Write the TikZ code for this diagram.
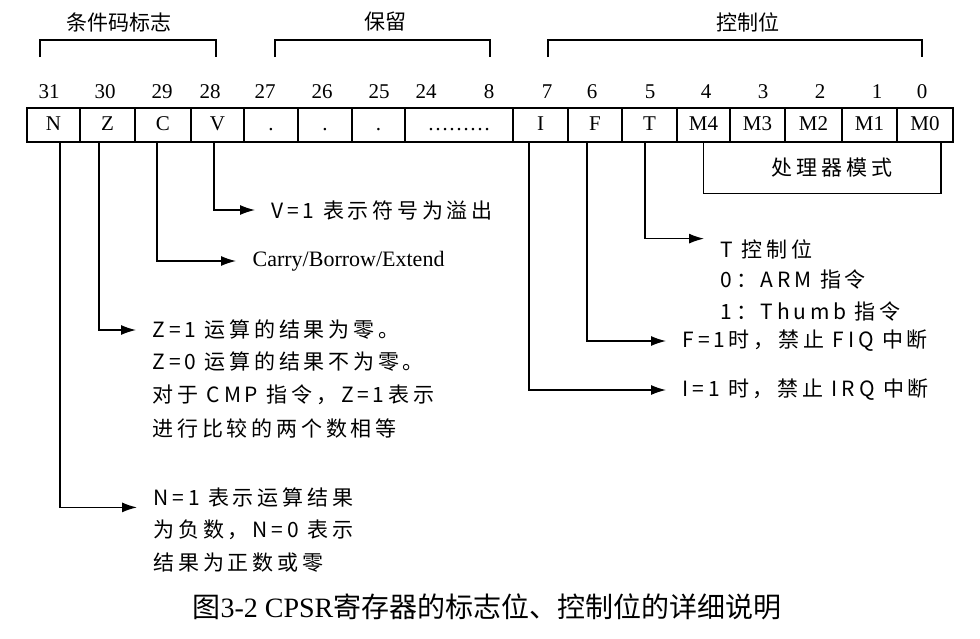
\documentclass[tikz,border=0pt]{standalone}
\usepackage{fontspec}
\setmainfont{Liberation Serif}
\newfontfamily\cjk{Noto Sans CJK SC}
\newfontfamily\cjksp[LetterSpace=18]{Noto Sans CJK SC}
\usetikzlibrary{arrows.meta,positioning}

\begin{document}
\begin{tikzpicture}[x=1pt,y=-1pt,line width=1.3pt,
  cell/.style={draw,minimum height=34pt,inner sep=0pt,text height=14pt,text depth=4pt,
    font=\fontsize{21}{24}\selectfont},
  num/.style={inner sep=0pt,font=\fontsize{21}{24}\selectfont},
  grp/.style={inner sep=0pt,font=\cjk\fontsize{21}{24}\selectfont},
  note/.style={anchor=west,inner xsep=16pt,inner ysep=0pt,font=\cjksp\fontsize{21}{24}\selectfont},
  lead/.style={-{Latex[length=15pt,width=10pt]}}]
\useasboundingbox (0,0) rectangle (980,638);
% register cells
\foreach \l/\r/\n/\t in {27/80/N/N,80/135/Z/Z,135/191/C/C,191/244/V/V,244/298/b27/.,298/352/b26/.,
  352/405/b25/.,405/513/b24/\dots\dots\dots,513/568/I/I,568/622/F/F,622/677/T/T,
  677/730/M4/M4,730/785/M3/M3,785/842/M2/M2,842/897/M1/M1,897/953/M0/M0}
  \node[cell,minimum width={\r-\l}] (\n) at ({(\l+\r)/2},125) {\t};
% bit numbers
\foreach \x/\b in {49/31,105/30,162/29,210/28,265/27,322/26,379/25,426/24,489/8,
  547/7,592/6,650/5,706/4,763/3,820/2,877/1,922/0}
  \node[num] (n\b) at (\x,92) {\b};
% groups
\draw (40,57) -- (40,40) -- (216,40) -- (216,57);
\draw (275,57) -- (275,40) -- (490,40) -- (490,57);
\draw (548,57) -- (548,40) -- (922,40) -- (922,57);
\node[grp] (gcond) at (119,22) {条件码标志};
\node[grp] (gres) at (385,22) {保留};
\node[grp] (gctl) at (748,22) {控制位};
% mode bits
\draw (M4.south) -- ++(0,51) -| ([xshift=16]M0.south);
\node[grp,font=\cjksp\fontsize{21}{24}\selectfont] (mode) at (832,168) {处理器模式};
% flag notes
\node[note] (vtxt) at (255,210) {V=1 表示符号为溢出};
\node[note,font=\fontsize{22}{24}\selectfont] (ctxt) at (236,261) {Carry/Borrow/Extend};
\node[note] (z1) at (136,330) {Z=1 运算的结果为零。};
\node[note] (z2) at (136,362) {Z=0 运算的结果不为零。};
\node[note] (z3) at (136,395) {对于 CMP 指令，Z=1表示};
\node[note] (z4) at (136,428) {进行比较的两个数相等};
\node[note] (n1) at (137,497) {N=1 表示运算结果};
\node[note] (n2) at (137,530) {为负数，N=0 表示};
\node[note] (n3) at (137,563) {结果为正数或零};
\draw[lead] ([xshift=-3.5]V.south) |- (vtxt.west);
\draw[lead] ([xshift=-6]C.south) |- (ctxt.west);
\draw[lead] ([xshift=-8.5]Z.south) |- (z1.west);
\draw[lead] ([xshift=6.5]N.south) |- (n1.south west);
% control notes
\node[note] (t1) at (704,249) {T 控制位};
\node[note] (t2) at (704,280) {0：ARM 指令};
\node[note] (t3) at (704,312) {1：Thumb 指令};
\node[note] (ftxt) at (666,341) {F=1时，禁止 FIQ 中断};
\node[note] (itxt) at (666,390) {I=1 时，禁止 IRQ 中断};
\draw[lead] ([xshift=-4.5]T.south) |- (t1.north west);
\draw[lead] ([xshift=-8]F.south) |- (ftxt.west);
\draw[lead] ([xshift=-11.5]I.south) |- (itxt.west);
% caption
\node[inner sep=0pt,font=\fontsize{28}{30}\selectfont] (cap) at (487,607)
  {{\cjk 图}3-2 CPSR{\cjk 寄存器的标志位、控制位的详细说明}};
\end{tikzpicture}
\end{document}
